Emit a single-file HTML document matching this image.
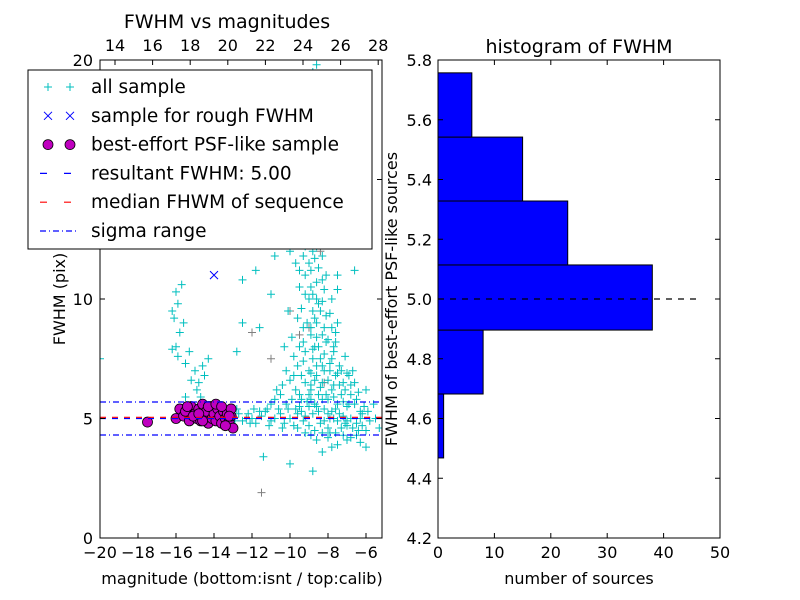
<!DOCTYPE html>
<html><head><meta charset="utf-8"><style>
html,body{margin:0;padding:0;background:#fff;}
svg{display:block;font-family:"DejaVu Sans","Liberation Sans",sans-serif;}
</style></head><body>
<svg id="c" width="800" height="600" viewBox="0 0 800 600" xmlns="http://www.w3.org/2000/svg">
<rect width="800" height="600" fill="#fff"/>
<g id="plotL"></g>
<g id="plotR"></g>
</svg>
<script>
const allSample=[[-13,5.1],[-12.5,4.9],[-12.2,5.2],[-12,5.0],[-11.8,4.8],[-11.5,5.1],[-11.3,5.3],[-11,4.9],[-10.8,5.0],[-10.5,5.2],[-10.3,4.8],[-10.1,5.4],[-10,5.0],[-9.8,4.7],[-9.6,5.2],[-9.5,5.5],[-9.3,4.9],[-9.2,5.1],[-7.5,4.9],[-7.2,5.1],[-7,4.7],[-6.8,5.0],[-6.5,4.8],[-6.2,5.2],[-6,4.5],[-5.8,4.9],[-5.5,5.0],[-5.3,4.6],[-6.5,4.3],[-7,4.1],[-6,3.8],[-7.5,3.9],[-8,4.2],
[-11.4,3.4],[-10,3.1],[-8.8,2.8],[-8.3,3.6],[-7.8,3.8],
[-16,10.3],[-15.9,9.8],[-16.1,9.2],[-15.8,8.6],[-16,8.0],[-15.7,10.6],[-16.2,9.5],[-15.6,9.0],[-15.9,7.6],[-15.3,7.8],[-15.5,7.3],[-15,7.0],[-14.8,6.5],[-14.6,7.2],[-14.5,6.8],[-15.2,6.6],[-14.9,6.2],[-14.7,5.9],[-15.5,5.9],[-14.3,7.5],[-16.2,7.9],[-20,7.5],
[-9.5,6],[-9.2,6.5],[-9,7],[-8.8,7.5],[-8.7,8],[-8.9,8.5],[-9.1,9],[-8.8,9.5],[-9,10],[-8.9,10.5],[-9.2,11],[-9,11.5],[-8.8,12],[-9.1,12.5],[-9,13],[-8.7,13.5],[-9.3,14],[-8.5,6],[-8.3,6.5],[-8.2,7],[-8.4,7.5],[-8.5,8],[-8.3,8.5],[-8.6,9],[-8.4,9.5],[-8.6,10],[-8.3,10.8],[-8.5,11.3],[-8.6,12.2],[-8.4,13.2],[-8,5.8],[-7.8,6.2],[-7.6,6.8],[-7.9,7.3],[-7.7,7.8],[-8,8.3],[-7.5,5.6],[-7.3,6],[-7.2,6.5],[-7,5.5],[-6.8,6],[-6.5,5.8],[-6.3,5.3],[-7.8,5.3],[-8.2,5.4],[-8.7,5.6],[-9,5.5],[-9.4,5.8],[-9.7,6.2],[-10,6.6],[-10.2,7],[-9.8,7.6],[-10.3,8],[-10.5,6],[-10.8,5.8],[-11,5.6],[-9.6,9.2],[-9.5,10.5],[-9.7,11.5],[-10,12],[-9.4,13],[-9.3,8.2],[-9.2,7.8],[-8.9,6.2],[-8.6,6.8],[-8.1,6],[-7.7,5.9],[-7.4,7.2],[-7.1,7.6],[-6.9,6.8],[-6.6,6.5],[-7,4.9],[-7.3,4.6],[-7.6,4.4],[-8,4.6],[-8.4,4.8],[-8.7,4.5],[-9,4.7],[-8.8,5.2],[-8.5,5.3],[-8.2,4.9],[-7.9,5],[-6,6.2],[-7.8,8.8],[-7.5,9],[-7.6,8.2],
[-8.8,19.5],[-8.6,19.8],[-9,18.7],[-8.5,18.2],[-9.2,17.5],[-8.8,16.5],[-9.5,16],[-8.4,15.8],[-9,15.2],[-8.7,14.8],[-10.2,14.5],[-11,16.5],[-9.8,17.3],[-11.5,15],[-10.5,12.8],[-11.8,11.2],[-12.5,10.8],[-10.8,11.8],[-11,10.2],[-12.5,9],[-12.8,7.8],[-11.6,8.8],[-7,12.5],[-7.5,11],[-6.6,11.2],[-8,15],[-7.8,13],[-8.1,17],
[-9.0,6.0],[-8.9,6.4],[-8.7,6.6],[-8.9,6.9],[-8.6,7.2],[-8.8,7.9],[-8.6,8.4],[-8.9,8.8],[-8.7,9.2],[-8.5,9.8],[-8.8,10.2],[-8.6,10.7],[-8.9,11.2],[-8.7,11.7],[-8.9,12.3],[-8.6,12.8],[-8.8,13.2],[-8.5,13.8],[-8.8,14.2],[-8.4,6.3],[-8.3,7.2],[-8.2,7.7],[-8.1,8.2],[-8.2,8.8],[-8.1,9.3],[-8.3,9.9],[-8.2,10.4],[-8.1,11.0],[-8.3,11.8],[-8.2,12.6],
[-8.0,6.6],[-7.9,7.0],[-7.8,7.5],[-7.7,8.0],[-7.6,8.6],[-7.9,9.4],[-7.8,10.0],[-7.5,10.4],[-7.7,6.4],[-7.5,6.9],[-7.4,6.4],[-7.3,7.0],[-7.2,5.7],[-7.1,6.2],[-7.0,6.9],[-6.9,5.6],[-6.8,6.4],[-6.7,7.0],[-6.6,5.6],[-6.4,6.1],[-6.3,5.0],[-6.1,5.5],[-5.9,5.3],[-5.6,5.6],[-7.7,5.0],[-7.4,5.2],[-7.1,4.8],[-6.7,4.6],[-6.4,4.5],[-6.2,4.7],[-7.9,4.4],[-8.3,4.4],[-8.6,4.1],[-8.9,4.3],[-7.2,4.3],[-6.8,4.2],[-6.3,4.0],
[-9.4,6.8],[-9.6,7.2],[-9.3,7.4],[-9.5,8.0],[-9.3,8.8],[-9.4,9.6],[-9.2,10.2],[-9.5,11.2],[-9.3,11.8],[-9.2,12.2],[-9.6,12.6],[-9.2,13.5],[-9.8,6.8],[-9.9,8.4],[-10.1,9.5],[-10.4,6.4],[-10.7,6.2],[-11.2,5.4],[-11.6,5.3],[-12.3,5.0],[-12.7,5.2],[-12.9,4.9],[-11.9,5.4],[-10.6,5.4],[-10.2,5.6],[-9.9,5.8],[-9.7,5.4],[-9.4,5.3],[-9.1,5.7],[-8.9,5.8],[-8.6,5.5],[-8.3,5.8],[-8.0,5.2],[-7.6,5.4],[-9.6,4.6],[-9.2,4.4],[-10.4,4.6],[-11.1,4.7],[-12.1,4.8],[-12.8,5.4]];
const graySample=[[-9,8.8],[-11.5,1.9],[-11,7.5],[-8.4,12],[-8.2,6.5],[-9.5,8.5],[-12,8.6],[-10,9.5]];
const roughSample=[[-14,11]];
const psfSample=[[-17.5,4.85],[-16,5.0],[-15.8,5.4],[-15.6,5.1],[-15.5,5.3],[-15.3,4.9],[-15.2,5.5],[-15,5.2],[-14.9,5.0],[-14.8,5.4],[-14.7,4.9],[-14.6,5.6],[-14.5,5.1],[-14.4,5.3],[-14.3,4.8],[-14.2,5.5],[-14.1,5.0],[-14,5.2],[-13.9,4.9],[-13.8,5.4],[-13.7,5.1],[-13.6,4.8],[-13.5,5.3],[-13.4,5.0],[-13.3,5.2],[-13.2,4.9],[-13.1,5.1],[-13,4.6],[-13.1,5.4],[-13.4,4.7],[-14.6,4.9],[-15.1,5.1],[-14.3,5.5],[-13.9,5.6],[-15.4,5.5],[-14.8,5.2],[-13.6,5.5],[-13.2,5.1]];
const resultFwhm=5.00, medianFwhm=5.05, sigmaLow=4.31, sigmaHigh=5.69;
const xTicksBottom=[-20,-18,-16,-14,-12,-10,-8,-6];
const xTicksTop=[14,16,18,20,22,24,26,28];
const yTicksL=[0,5,10,15,20];
const binEdges=[4.468,4.682,4.896,5.114,5.328,5.542,5.757];
const binCounts=[1,8,38,23,15,6];
const histXTicks=[0,10,20,30,40,50];
const histYTicks=[4.2,4.4,4.6,4.8,5.0,5.2,5.4,5.6,5.8];

const NS="http://www.w3.org/2000/svg";
function mk(p,t,a){const e=document.createElementNS(NS,t);for(const k in a)e.setAttribute(k,a[k]);p.appendChild(e);return e;}
const L=document.getElementById('plotL'),R=document.getElementById('plotR');
const lx0=100,lx1=382,ly0=60,ly1=538;
const xs=v=>lx0+(v+20)*19, ys=v=>ly1-v*23.9;
const xt=v=>115+(v-14)*18.8;
const FS=16;
const clip=mk(document.querySelector('svg'),'clipPath',{id:'cl'});mk(clip,'rect',{x:lx0,y:ly0,width:lx1-lx0,height:ly1-ly0});
const pts=mk(L,'g',{'clip-path':'url(#cl)'});
function plus(g,x,y,col,name){const p=mk(g,'path',{d:`M${x-4},${y}h8M${x},${y-4}v8`,stroke:col,'stroke-width':1,fill:'none'});

}
graySample.forEach(d=>plus(pts,xs(d[0]),ys(d[1]),'#808080','gray-sample-point'));
allSample.forEach(d=>plus(pts,xs(d[0]),ys(d[1]),'#00bfbf','all-sample-point'));
roughSample.forEach(d=>{const x=xs(d[0]),y=ys(d[1]);const p=mk(pts,'path',{d:`M${x-4},${y-4}l8,8M${x-4},${y+4}l8,-8`,stroke:'#0000ff','stroke-width':1});

});
psfSample.forEach(d=>{const c=mk(pts,'circle',{cx:xs(d[0]),cy:ys(d[1]),r:5,fill:'#bf00bf',stroke:'#000','stroke-width':0.8});

});
function hline(g,v,col,dash,name){const l=mk(g,'line',{x1:lx0,x2:lx1,y1:ys(v),y2:ys(v),stroke:col,'stroke-width':1.2,'stroke-dasharray':dash});

}
hline(pts,resultFwhm,'#0000ff','6,6','resultant-fwhm-line');
hline(pts,medianFwhm,'#ff0000','6,6','median-fwhm-line');
hline(pts,sigmaLow,'#0000ff','6,3,1,3','sigma-low-line');
hline(pts,sigmaHigh,'#0000ff','6,3,1,3','sigma-high-line');
mk(L,'rect',{x:lx0,y:ly0,width:lx1-lx0,height:ly1-ly0,fill:'none',stroke:'#000','stroke-width':1});
xTicksBottom.forEach(v=>{const x=xs(v);mk(L,'path',{d:`M${x},${ly1}v-5`,stroke:'#000'});
const t=mk(L,'text',{x:x,y:558,'font-size':FS,'text-anchor':'middle'});t.textContent=(v<0?'\u2212':'')+Math.abs(v);

});
xTicksTop.forEach(v=>{const x=xt(v);mk(L,'path',{d:`M${x},${ly0}v5`,stroke:'#000'});
const t=mk(L,'text',{x:x,y:51,'font-size':FS,'text-anchor':'middle'});t.textContent=v;

});
yTicksL.forEach(v=>{const y=ys(v);mk(L,'path',{d:`M${lx0},${y}h5M${lx1},${y}h-5`,stroke:'#000'});
const t=mk(L,'text',{x:93,y:y+6,'font-size':FS,'text-anchor':'end'});t.textContent=v;

});
let t=mk(L,'text',{x:242,y:584,'font-size':FS,'text-anchor':'middle'});t.textContent='magnitude (bottom:isnt / top:calib)';

t=mk(L,'text',{x:0,y:0,'font-size':FS,'text-anchor':'middle',transform:'translate(65,299) rotate(-90)'});t.textContent='FWHM (pix)';

t=mk(L,'text',{x:227,y:28,'font-size':19,'text-anchor':'middle'});t.textContent='FWHM vs magnitudes';

const lg=mk(L,'g',{});
mk(lg,'rect',{x:28,y:70,width:344,height:179,fill:'#fff',stroke:'#000','stroke-width':1});
const labels=['all sample','sample for rough FWHM','best-effort PSF-like sample','resultant FWHM: 5.00','median FHWM of sequence','sigma range'];
labels.forEach((s,i)=>{const y=87+i*28.8;
if(i==0){plus(lg,48,y,'#00bfbf','legend-marker');plus(lg,70,y,'#00bfbf','legend-marker');}
if(i==1){[48,70].forEach(x=>mk(lg,'path',{d:`M${x-4},${y-4}l8,8M${x-4},${y+4}l8,-8`,stroke:'#0000ff'}));}
if(i==2){[48,70].forEach(x=>mk(lg,'circle',{cx:x,cy:y,r:5,fill:'#bf00bf',stroke:'#000','stroke-width':0.8}));}
if(i==3)mk(lg,'line',{x1:40,x2:78,y1:y,y2:y,stroke:'#0000ff','stroke-dasharray':'7,17','stroke-width':1.2});
if(i==4)mk(lg,'line',{x1:40,x2:78,y1:y,y2:y,stroke:'#ff0000','stroke-dasharray':'7,17','stroke-width':1.2});
if(i==5)mk(lg,'line',{x1:40,x2:78,y1:y,y2:y,stroke:'#0000ff','stroke-dasharray':'6,3,1,3','stroke-width':1.2});
const tt=mk(lg,'text',{x:91,y:y+6,'font-size':18.5});tt.textContent=s;
});
const rx0=438,rx1=720;
const hx=v=>rx0+v*(rx1-rx0)/50, hy=v=>ly1-(v-4.2)*298.75;
binCounts.forEach((c,i)=>{const r=mk(R,'rect',{x:rx0,y:hy(binEdges[i+1]),width:hx(c)-rx0,height:hy(binEdges[i])-hy(binEdges[i+1]),fill:'#0000ff',stroke:'#000','stroke-width':1});

});
const ml=mk(R,'line',{x1:rx0,x2:hx(46),y1:hy(resultFwhm),y2:hy(resultFwhm),stroke:'#000','stroke-dasharray':'6,6','stroke-width':1.2});

mk(R,'rect',{x:rx0,y:ly0,width:rx1-rx0,height:ly1-ly0,fill:'none',stroke:'#000'});
histXTicks.forEach(v=>{const x=hx(v);mk(R,'path',{d:`M${x},${ly1}v-5M${x},${ly0}v5`,stroke:'#000'});
const t=mk(R,'text',{x:x,y:558,'font-size':FS,'text-anchor':'middle'});t.textContent=v;
});
histYTicks.forEach(v=>{const y=hy(v);mk(R,'path',{d:`M${rx0},${y}h5M${rx1},${y}h-5`,stroke:'#000'});
const t=mk(R,'text',{x:432,y:y+6,'font-size':FS,'text-anchor':'end'});t.textContent=v.toFixed(1);
});
t=mk(R,'text',{x:579,y:584,'font-size':FS,'text-anchor':'middle'});t.textContent='number of sources';

t=mk(R,'text',{x:0,y:0,'font-size':FS,'text-anchor':'middle',transform:'translate(397,299) rotate(-90)'});t.textContent='FWHM of best-effort PSF-like sources';

t=mk(R,'text',{x:579,y:53,'font-size':19,'text-anchor':'middle'});t.textContent='histogram of FWHM';

</script>
</body></html>
